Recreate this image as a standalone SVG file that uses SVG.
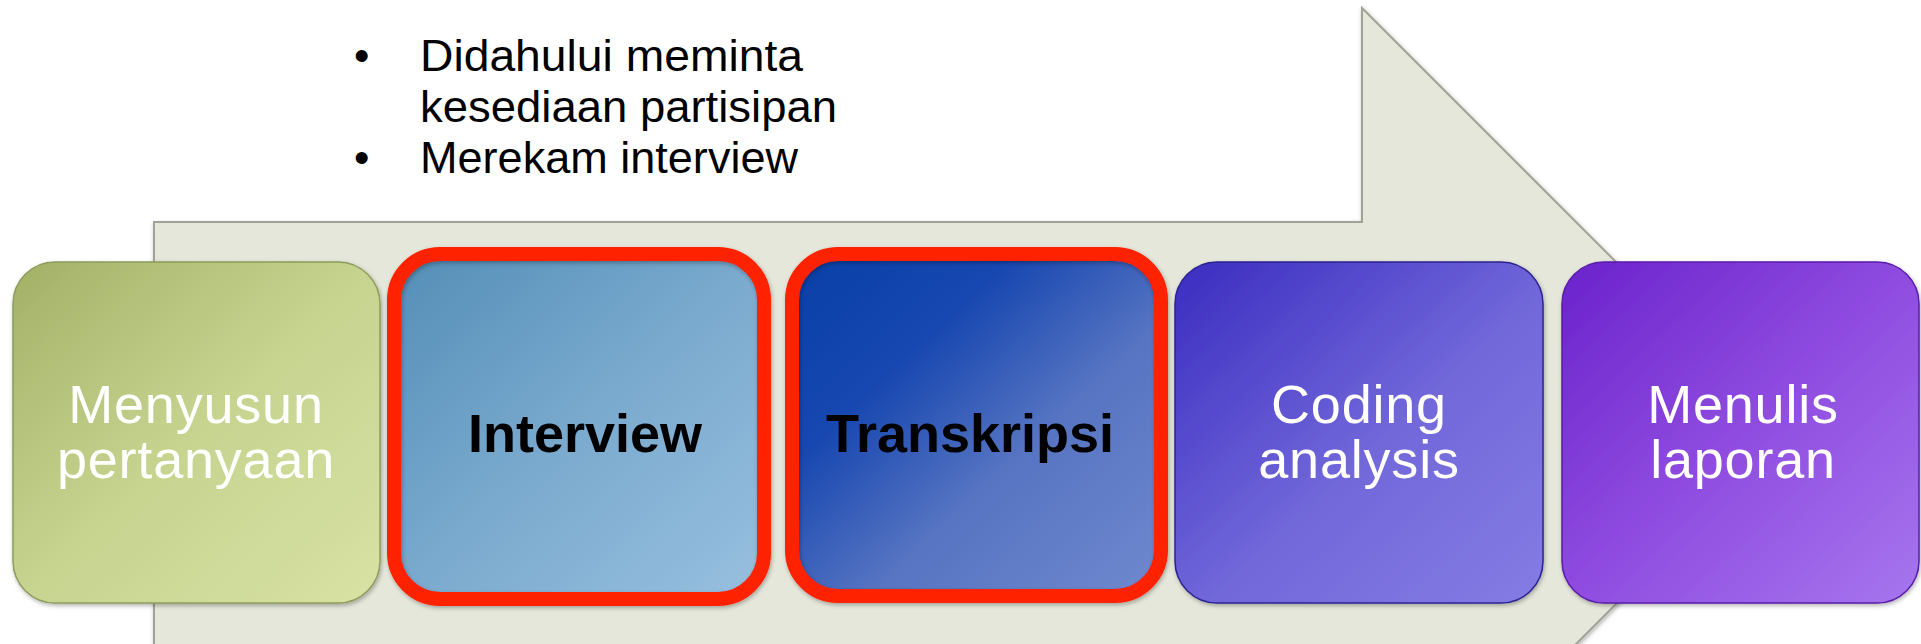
<svg xmlns="http://www.w3.org/2000/svg" width="1921" height="644" viewBox="0 0 1921 644">
  <style>
    .lbl { font-family: "Liberation Sans", Arial, sans-serif; font-size: 54px; fill: #ffffff; text-anchor: middle; letter-spacing: 0.8px; }
    .bold { font-family: "Liberation Sans", Arial, sans-serif; font-size: 54px; font-weight: bold; fill: #000000; text-anchor: middle; }
    .bullet { font-family: "Liberation Sans", Arial, sans-serif; font-size: 44px; fill: #000000; }
    .frame { fill: none; stroke: #ff2200; stroke-width: 14; }
  </style>
  <defs>
    <linearGradient id="gGreen" x1="0" y1="0" x2="1" y2="1">
      <stop offset="0" stop-color="#a3b167"/>
      <stop offset="0.5" stop-color="#c6d490"/>
      <stop offset="1" stop-color="#d8e2a4"/>
    </linearGradient>
    <linearGradient id="gLightBlue" x1="0" y1="0" x2="1" y2="1">
      <stop offset="0" stop-color="#548eb7"/>
      <stop offset="0.5" stop-color="#7aaace"/>
      <stop offset="1" stop-color="#97bfdf"/>
    </linearGradient>
    <linearGradient id="gBlue" x1="0" y1="0" x2="1" y2="1">
      <stop offset="0" stop-color="#0840a8"/>
      <stop offset="0.3" stop-color="#1747b0"/>
      <stop offset="0.6" stop-color="#5674c2"/>
      <stop offset="1" stop-color="#7089cf"/>
    </linearGradient>
    <linearGradient id="gIndigo" x1="0" y1="0" x2="1" y2="1">
      <stop offset="0" stop-color="#3a2cc0"/>
      <stop offset="0.55" stop-color="#7268da"/>
      <stop offset="1" stop-color="#857ce4"/>
    </linearGradient>
    <linearGradient id="gPurple" x1="0" y1="0" x2="1" y2="1">
      <stop offset="0" stop-color="#6a22cb"/>
      <stop offset="0.5" stop-color="#8f4ce0"/>
      <stop offset="1" stop-color="#a676ee"/>
    </linearGradient>
    <filter id="shadow" x="-10%" y="-10%" width="120%" height="120%">
      <feDropShadow dx="1" dy="2" stdDeviation="2" flood-color="#000000" flood-opacity="0.3"/>
    </filter>
  </defs>

  <g id="flow-arrow">
    <polygon points="154,222 1362,222 1362,8 1787,433 1362,858 1362,660 154,660" fill="#e5e7da" stroke="#a2a296" stroke-width="2" filter="url(#shadow)"/>
  </g>

  <g id="notes">
    <text class="bullet" x="354" y="71">•</text>
    <text class="bullet" x="420" y="71" textLength="383" lengthAdjust="spacingAndGlyphs">Didahului meminta</text>
    <text class="bullet" x="420" y="122" textLength="417" lengthAdjust="spacingAndGlyphs">kesediaan partisipan</text>
    <text class="bullet" x="354" y="173">•</text>
    <text class="bullet" x="420" y="173" textLength="378" lengthAdjust="spacingAndGlyphs">Merekam interview</text>
  </g>

  <g id="connectors"></g>

  <g id="node-menyusun">
    <rect x="13" y="262" width="367" height="341" rx="42" fill="url(#gGreen)" stroke="#8d9c5c" stroke-width="1.5" filter="url(#shadow)"/>
    <text class="lbl" x="196" y="423">Menyusun</text>
    <text class="lbl" x="196" y="478">pertanyaan</text>
  </g>

  <g id="node-interview">
    <rect x="398" y="258" width="362" height="337" rx="42" fill="url(#gLightBlue)" stroke="#3f6f93" stroke-width="1.5"/>
    <rect class="frame" x="394" y="254" width="370" height="345" rx="46" filter="url(#shadow)"/>
    <text class="bold" x="585" y="452">Interview</text>
  </g>

  <g id="node-transkripsi">
    <rect x="793" y="259" width="362" height="338" rx="42" fill="url(#gBlue)" stroke="#2a4b96" stroke-width="1.5"/>
    <rect class="frame" x="792" y="254" width="369" height="342" rx="46" filter="url(#shadow)"/>
    <text class="bold" x="970" y="452">Transkripsi</text>
  </g>

  <g id="node-coding">
    <rect x="1175" y="262" width="368" height="341" rx="42" fill="url(#gIndigo)" stroke="#2c2390" stroke-width="1.5" filter="url(#shadow)"/>
    <text class="lbl" x="1359" y="423">Coding</text>
    <text class="lbl" x="1359" y="478">analysis</text>
  </g>

  <g id="node-menulis">
    <rect x="1562" y="262" width="357" height="341" rx="42" fill="url(#gPurple)" stroke="#5a1ca8" stroke-width="1.5" filter="url(#shadow)"/>
    <text class="lbl" x="1743" y="423">Menulis</text>
    <text class="lbl" x="1743" y="478">laporan</text>
  </g>
</svg>
